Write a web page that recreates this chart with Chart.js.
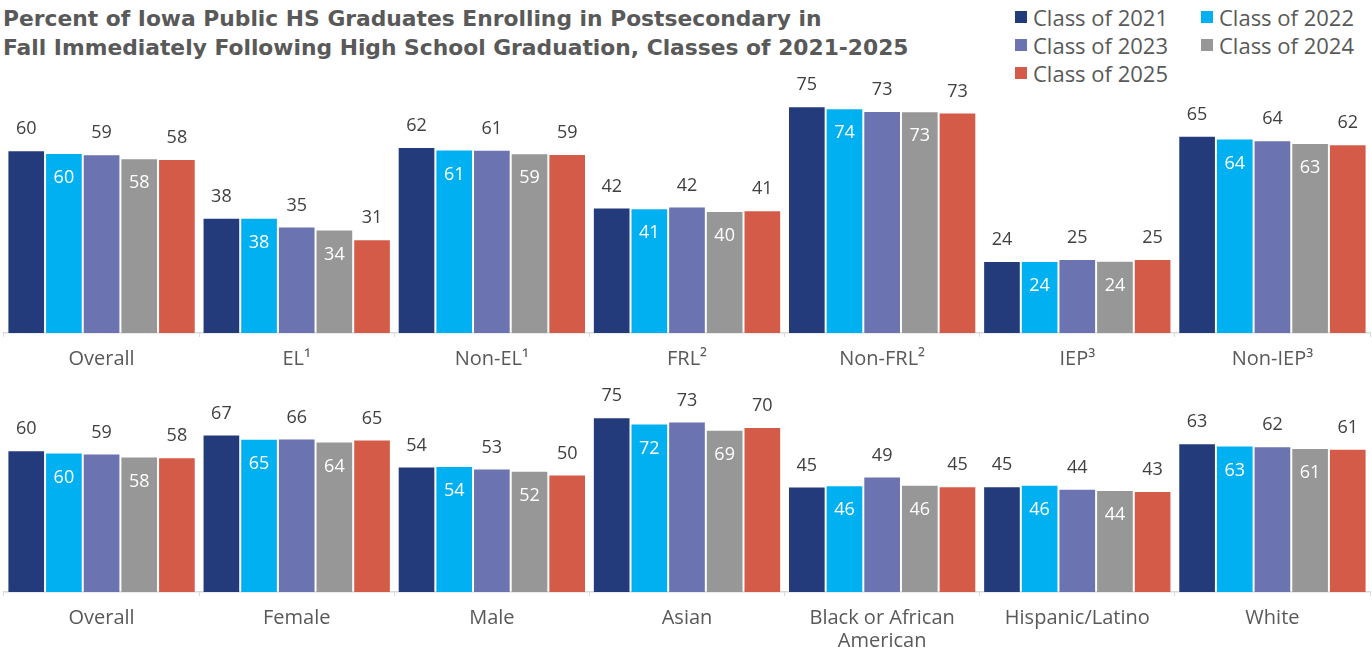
<!DOCTYPE html>
<html>
<head>
<meta charset="utf-8">
<script src="https://cdn.jsdelivr.net/npm/chart.js@4"></script>
<style>
  body { margin: 0; background: #fff; }
  #wrap { position: relative; width: 1372px; height: 654px; overflow: hidden; font-family: "Open Sans", sans-serif; }
  #title { position: absolute; left: 3px; top: 4px; font-family: "DejaVu Sans", sans-serif; font-weight: bold; font-size: 21.8px; line-height: 29px; color: #595959; white-space: nowrap; }
  #legend { position: absolute; left: 1015px; top: 5px; display: grid; grid-template-columns: 186px 160px; row-gap: 4px; }
  .item { display: flex; align-items: center; font-size: 22px; line-height: 24px; color: #595959; white-space: nowrap; }
  .box { width: 12px; height: 12px; margin-right: 6px; }
  canvas { position: absolute; left: 0; }
  #top { top: 60px; }
  #bottom { top: 340px; }
</style>
</head>
<body>
<div id="wrap">
  <div id="title">Percent of Iowa Public HS Graduates Enrolling in Postsecondary in<br>Fall Immediately Following High School Graduation, Classes of 2021-2025</div>
  <div id="legend"></div>
  <canvas id="top" width="1372" height="322"></canvas>
  <canvas id="bottom" width="1372" height="324"></canvas>
</div>
<script>
// series names + colours
const seriesNames = ['Class of 2021', 'Class of 2022', 'Class of 2023', 'Class of 2024', 'Class of 2025'];
const seriesColors = ['#243B7B', '#00B0F0', '#6B73B0', '#979797', '#D45B48'];

// top panel
const topCategories = ['Overall', 'EL¹', 'Non-EL¹', 'FRL²', 'Non-FRL²', 'IEP³', 'Non-IEP³'];
const top2021 = [60.4, 38.1, 61.5, 41.5, 75.0, 23.8, 65.2];
const top2022 = [59.5, 38.1, 60.7, 41.2, 74.3, 23.8, 64.3];
const top2023 = [59.1, 35.2, 60.6, 41.8, 73.4, 24.5, 63.7];
const top2024 = [57.8, 34.2, 59.4, 40.3, 73.3, 23.9, 62.8];
const top2025 = [57.5, 31.0, 59.2, 40.6, 72.9, 24.5, 62.4];

// bottom panel
const bottomCategories = ['Overall', 'Female', 'Male', 'Asian', ['Black or African', 'American'], 'Hispanic/Latino', 'White'];
const bottom2021 = [60.4, 67.2, 53.5, 74.5, 45.0, 45.1, 63.4];
const bottom2022 = [59.5, 65.4, 53.7, 71.9, 45.5, 45.7, 62.5];
const bottom2023 = [59.1, 65.5, 52.7, 72.7, 49.3, 44.0, 62.2];
const bottom2024 = [57.8, 64.2, 51.7, 69.2, 45.7, 43.5, 61.4];
const bottom2025 = [57.5, 65.0, 50.1, 70.4, 45.1, 43.1, 61.1];

const labelFont = '"Open Sans", sans-serif';

// legend
const legend = document.getElementById('legend');
seriesNames.forEach((name, i) => {
  const d = document.createElement('div');
  d.className = 'item';
  d.innerHTML = '<span class="box" style="background:' + seriesColors[i] + '"></span>' + name;
  legend.appendChild(d);
});

// value labels: 2021/2023/2025 above the bar, 2022/2024 inside in white
const barLabels = {
  id: 'barLabels',
  afterDatasetsDraw(chart) {
    const ctx = chart.ctx;
    ctx.save();
    ctx.font = '18px ' + labelFont;
    ctx.textAlign = 'center';
    ctx.textBaseline = 'middle';
    chart.data.datasets.forEach((ds, i) => {
      chart.getDatasetMeta(i).data.forEach((bar, j) => {
        const txt = Math.round(ds.data[j]);
        if (i % 2 === 0) {
          ctx.fillStyle = '#404040';
          ctx.fillText(txt, bar.x, bar.y - 21);
        } else {
          ctx.fillStyle = '#ffffff';
          ctx.fillText(txt, bar.x, bar.y + 25);
        }
      });
    });
    ctx.restore();
  }
};

function makeChart(id, categories, series, yMax, padTop) {
  return new Chart(document.getElementById(id), {
    type: 'bar',
    data: {
      labels: categories,
      datasets: series.map((s, i) => ({
        label: seriesNames[i],
        data: s,
        backgroundColor: seriesColors[i],
        borderColor: 'rgba(255,255,255,0.35)',
        borderWidth: 1,
        categoryPercentage: 0.965,
        barPercentage: 1
      }))
    },
    options: {
      responsive: false,
      animation: false,
      layout: { padding: { top: padTop, left: 4, right: 2, bottom: 0 } },
      plugins: { legend: { display: false }, tooltip: { enabled: false } },
      scales: {
        x: {
          border: { color: '#D9D9D9', width: 1.5 },
          grid: { offset: true, drawOnChartArea: false, color: '#D9D9D9', tickLength: 4 },
          ticks: { autoSkip: false, maxRotation: 0, padding: 11, color: '#595959', font: { family: labelFont, size: 20, lineHeight: 1.15 } }
        },
        y: { display: false, min: 0, max: yMax }
      }
    },
    plugins: [barLabels]
  });
}

makeChart('top', topCategories, [top2021, top2022, top2023, top2024, top2025], 80, 31);
makeChart('bottom', bottomCategories, [bottom2021, bottom2022, bottom2023, bottom2024, bottom2025], 100, 17.5);
</script>
</body>
</html>
